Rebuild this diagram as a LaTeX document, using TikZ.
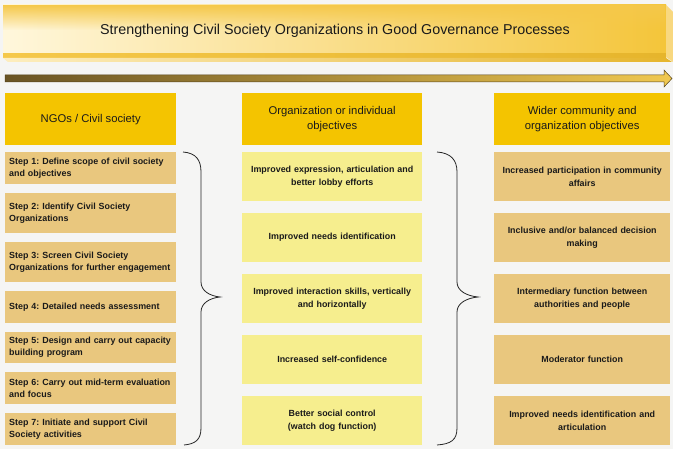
\documentclass[tikz,border=0pt]{standalone}
\usepackage{fontspec}
\setmainfont{Liberation Sans}
\usetikzlibrary{fadings}
\definecolor{bg}{HTML}{F5F5F4}
\definecolor{hdrgold}{HTML}{F4C400}
\definecolor{tan}{HTML}{E9C77E}
\definecolor{lightyel}{HTML}{F6EE8E}
\definecolor{txt}{HTML}{1A1A1A}
\definecolor{bannerL}{HTML}{FFF7DC}
\definecolor{bannerR}{HTML}{F4C53A}
\definecolor{bannertop}{HTML}{F5C84A}
\definecolor{lip}{HTML}{E6B52C}
\definecolor{arrowL}{HTML}{6A5424}
\definecolor{arrowR}{HTML}{F0C850}
\tikzfading[name=fadedown, top color=transparent!0, bottom color=transparent!100]
\begin{document}
\frenchspacing
\hyphenpenalty=10000
\exhyphenpenalty=10000
\begin{tikzpicture}[x=1pt,y=-1pt,
  hdr/.style={fill=hdrgold, draw=none, anchor=north west, align=center, inner sep=0pt,
    minimum height=52pt, text=txt, font=\fontsize{11.25}{15}\selectfont},
  stepbox/.style={fill=tan, draw=none, anchor=north west, align=left, inner xsep=2pt, inner ysep=0pt,
    minimum width=171pt, text width=167pt, text=txt, font=\bfseries\fontsize{8.9}{12}\selectfont},
  midbox/.style={fill=lightyel, draw=none, anchor=north west, align=center, inner xsep=3pt, inner ysep=0pt,
    minimum width=180pt, text width=174pt, minimum height=49pt, text=txt, font=\bfseries\fontsize{8.9}{13}\selectfont},
  rightbox/.style={fill=tan, draw=none, anchor=north west, align=center, inner xsep=3pt, inner ysep=0pt,
    minimum width=176pt, text width=170pt, minimum height=49pt, text=txt, font=\bfseries\fontsize{8.9}{13}\selectfont},
  bracepath/.style={draw=black!85, line width=0.8pt},
]
\useasboundingbox (0,0) rectangle (673,449);
\fill[bg] (0,0) rectangle (673,449);

% banner
\shade[left color=bannerL, right color=bannerR] (3,5) rectangle (666,57);
\fill[bannertop, path fading=fadedown] (3,5) rectangle (666,30);
\shade[left color=bannertop, right color=lip] (3,54) rectangle (666,58);
\fill[bannertop!70!white] (666,5) -- (673,12) -- (673,62) -- (666,57) -- cycle;
\shade[left color=bannerL!80!bannertop, right color=lip] (3,58) -- (666,58) -- (672,62) -- (8,62) -- cycle;
\node[text=txt, font=\fontsize{14.3}{17}\selectfont, inner sep=0pt] (ttl) at (335,31)
  {Strengthening Civil Society Organizations in Good Governance Processes};

% process arrow
\shade[left color=arrowL, right color=arrowR, draw=arrowL!80!black, line width=0.5pt]
  (5,75) -- (664,75) -- (664,70) -- (672,78.5) -- (664,87) -- (664,82) -- (5,82) -- cycle;

% headers
\node[hdr, minimum width=171pt] (h1) at (5,93) {NGOs / Civil society};
\node[hdr, minimum width=180pt] (h2) at (242,93) {Organization or individual\\objectives};
\node[hdr, minimum width=176pt] (h3) at (494,93) {Wider community and\\organization objectives};

% left steps
\node[stepbox, minimum height=32pt] (s1) at (5,152) {\hspace{2pt}Step 1: Define scope of civil society\\\hspace*{2pt}and objectives};
\node[stepbox, minimum height=40pt] (s2) at (5,193) {\hspace*{2pt}Step 2: Identify Civil Society\\\hspace*{2pt}Organizations};
\node[stepbox, minimum height=40pt] (s3) at (5,242) {\hspace*{2pt}Step 3: Screen Civil Society\\\hspace*{2pt}Organizations for further engagement};
\node[stepbox, minimum height=32pt] (s4) at (5,291) {\hspace*{2pt}Step 4: Detailed needs assessment};
\node[stepbox, minimum height=31pt] (s5) at (5,332) {\hspace*{2pt}Step 5: Design and carry out capacity\\\hspace*{2pt}building program};
\node[stepbox, minimum height=32pt] (s6) at (5,372) {\hspace*{2pt}Step 6: Carry out mid-term evaluation\\\hspace*{2pt}and focus};
\node[stepbox, minimum height=32pt] (s7) at (5,413) {\hspace*{2pt}Step 7: Initiate and support Civil\\\hspace*{2pt}Society activities};

% middle
\node[midbox] (m1) at (242,152) {Improved expression, articulation and\\better lobby efforts};
\node[midbox] (m2) at (242,213) {Improved needs identification};
\node[midbox] (m3) at (242,274) {Improved interaction skills, vertically\\and horizontally};
\node[midbox] (m4) at (242,335) {Increased self-confidence};
\node[midbox] (m5) at (242,396) {Better social control\\(watch dog function)};

% right
\node[rightbox] (r1) at (494,152) {Increased participation in community\\affairs};
\node[rightbox] (r2) at (494,213) {Inclusive and/or balanced decision\\making};
\node[rightbox] (r3) at (494,274) {Intermediary function between\\authorities and people};
\node[rightbox] (r4) at (494,335) {Moderator function};
\node[rightbox] (r5) at (494,396) {Improved needs identification and\\articulation};

% braces
\draw[bracepath] (183,152) .. controls (196,153) and (201,160) .. (201,172) -- (201,282)
  .. controls (201,291) and (210,296) .. (220,297)
  .. controls (210,298) and (201,303) .. (201,312) -- (201,428)
  .. controls (201,440) and (195,444) .. (184,445);
\draw[bracepath] (437,152) .. controls (451,153) and (457,160) .. (457,172) -- (457,282)
  .. controls (457,291) and (467,296) .. (478,297)
  .. controls (467,298) and (457,303) .. (457,312) -- (457,428)
  .. controls (457,440) and (451,444) .. (437,445);
\end{tikzpicture}
\end{document}
